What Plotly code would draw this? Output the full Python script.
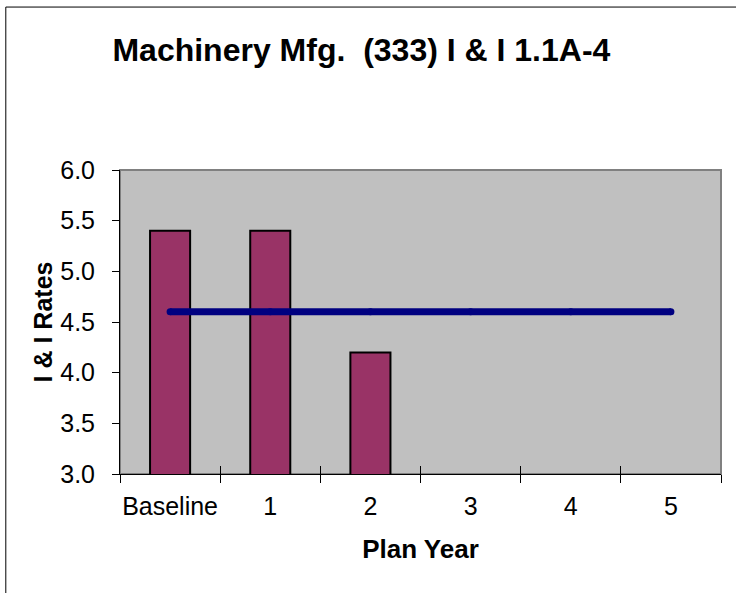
import plotly.graph_objects as go

categories = ["Baseline", "1", "2", "3", "4", "5"]
bar_values = [5.4, 5.4, 4.2, None, None, None]
target_values = [4.6, 4.6, 4.6, 4.6, 4.6, 4.6]
y_ticks = [3.0, 3.5, 4.0, 4.5, 5.0, 5.5, 6.0]

FONT = "Liberation Sans, Arial, sans-serif"

fig = go.Figure()
fig.add_trace(go.Bar(
    x=categories, y=bar_values,
    marker=dict(color="#993366", line=dict(color="black", width=2)),
    width=0.4, showlegend=False, hoverinfo="skip",
))
fig.add_trace(go.Scatter(
    x=categories, y=target_values, mode="lines+markers",
    line=dict(color="#000080", width=7),
    marker=dict(color="#000080", size=7, symbol="circle"),
    showlegend=False, hoverinfo="skip",
))
# invisible trace to drive inner tick marks on overlay axis
fig.add_trace(go.Scatter(
    x=categories, y=target_values, mode="lines", xaxis="x2",
    line=dict(width=0), opacity=0, showlegend=False, hoverinfo="skip",
))

fig.update_layout(
    width=736, height=593,
    margin=dict(l=120, r=15, t=170, b=119),
    paper_bgcolor="white",
    plot_bgcolor="#C0C0C0",
    title=dict(
        text="<b>Machinery Mfg.\u00a0 (333) I & I 1.1A-4</b>",
        x=0.491, xanchor="center", y=1 - 50 / 593, yanchor="middle",
        font=dict(family=FONT, size=32, color="black"),
    ),
    xaxis=dict(
        type="category", range=[-0.5, 5.5], tickangle=0,
        tickson="boundaries", ticks="outside", ticklen=8, tickwidth=1, tickcolor="black",
        showline=True, linecolor="black", linewidth=1, showgrid=False,
        tickfont=dict(family=FONT, size=25, color="black"),
        ticklabelstandoff=10,
        title=dict(text="<b>Plan Year</b>", font=dict(family=FONT, size=26, color="black"), standoff=20),
    ),
    xaxis2=dict(
        type="category", range=[-0.5, 5.5], overlaying="x", anchor="y", tickangle=0,
        tickson="boundaries", ticks="inside", ticklen=8, tickwidth=1, tickcolor="black",
        showticklabels=False, showgrid=False, showline=False, side="bottom",
    ),
    yaxis=dict(
        range=[3.0, 6.0], tickvals=y_ticks, ticktext=[f"{v:.1f}" for v in y_ticks],
        ticks="outside", ticklen=7, tickwidth=1, tickcolor="black",
        showline=True, linecolor="black", linewidth=1, showgrid=False, zeroline=False,
        tickfont=dict(family=FONT, size=25, color="black"),
        ticklabelstandoff=12,
        title=dict(text="<b>I & I Rates</b>", font=dict(family=FONT, size=25, color="black"), standoff=0),
    ),
    shapes=[
        # plot-area border (gray top/right)
        dict(type="rect", xref="paper", yref="paper", x0=0, x1=1, y0=0, y1=1,
             line=dict(color="#808080", width=2), layer="below"),
        # outer chart border, left and top edges
        dict(type="line", xref="paper", yref="paper", x0=-0.19, x1=-0.19, y0=-0.5, y1=1.536,
             line=dict(color="black", width=1)),
        dict(type="line", xref="paper", yref="paper", x0=-0.19, x1=1.2, y0=1.536, y1=1.536,
             line=dict(color="black", width=1)),
    ],
)

fig.write_html("out.html", config={"displayModeBar": False})

# remove the browser's default body margin so the figure sits at the page origin
with open("out.html", "r", encoding="utf-8") as f:
    html = f.read()
html = html.replace("<body>", '<body style="margin:0">', 1)
with open("out.html", "w", encoding="utf-8") as f:
    f.write(html)
